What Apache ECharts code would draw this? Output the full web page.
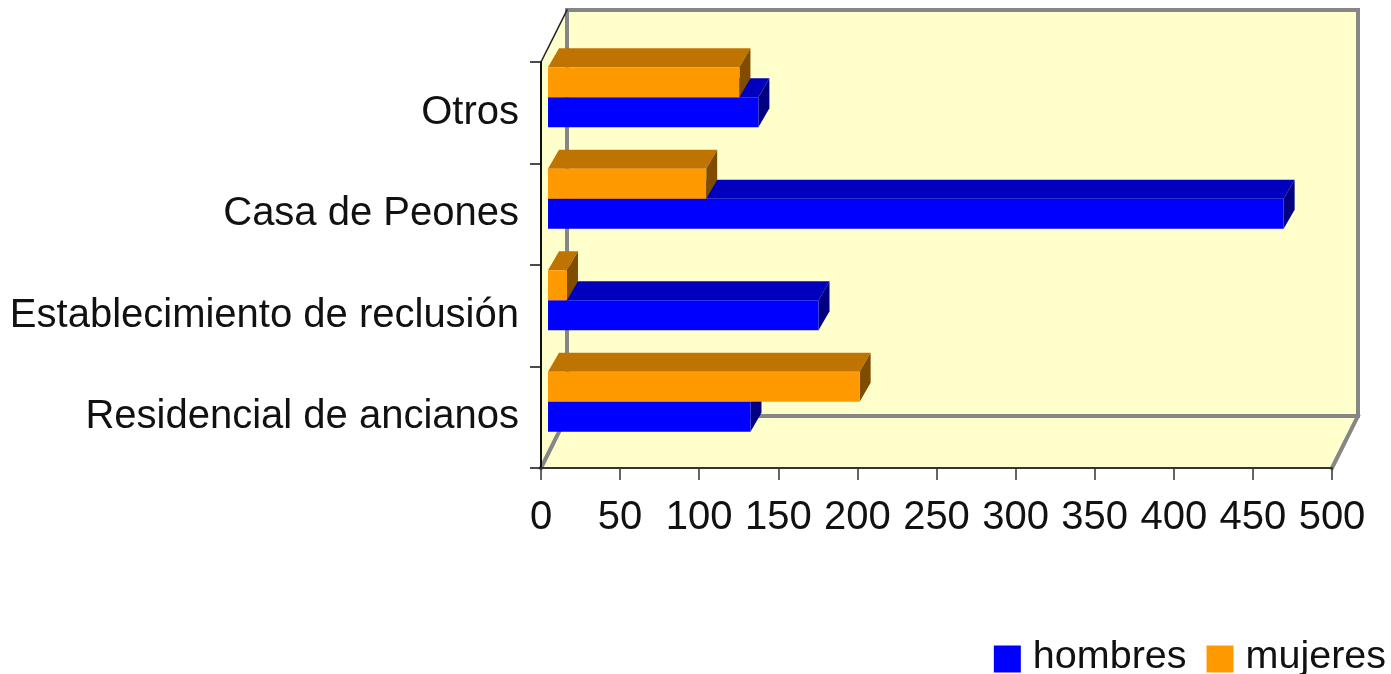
<!DOCTYPE html>
<html>
<head>
<meta charset="utf-8">
<style>
    html, body { margin: 0; padding: 0; background: #fff; }
    #chart_main { width: 1391px; height: 674px; }
</style>
<script src="https://cdn.jsdelivr.net/npm/echarts@6/dist/echarts.min.js"></script>
</head>
<body>
<div id="chart_main"></div>
<script>
var categories = ["Residencial de ancianos", "Establecimiento de reclusión", "Casa de Peones", "Otros"];
var hombres = [128, 171, 465, 133];
var mujeres = [197, 12, 100, 121];
var xTicks = { min: 0, max: 500, interval: 50 };

var fontName = '"Liberation Sans", Arial, sans-serif';
var wallColor = "#FFFFCC";
var wallLine = "#868686";

// caja 3D: cuanto se corre la pared del fondo y la cara de cada barra
var boxDepth = [26, -52];
var barShift = [7, -15.5];
var barDepth = [11, -19];
var barHeight = 30;

function poly(points, color) {
    return { type: "polygon", shape: { points: points }, style: { fill: color }, silent: true };
}
function line(a, b, color, width) {
    return {
        type: "line",
        shape: { x1: a[0], y1: a[1], x2: b[0], y2: b[1] },
        style: { stroke: color, lineWidth: width, lineCap: "square" },
        silent: true
    };
}

function renderWalls(params, api) {
    var p0 = api.coord([xTicks.min, 0]);
    var size = api.size([0, 1]);
    var bottom = p0[1] + size[1] / 2;
    var top = bottom - size[1] * categories.length;
    var left = p0[0];
    var right = api.coord([xTicks.max, 0])[0];
    var dx = boxDepth[0], dy = boxDepth[1];

    return {
        type: "group",
        children: [
            poly([[left + dx, top + dy], [right + dx, top + dy], [right + dx, bottom + dy], [left + dx, bottom + dy]], wallColor),
            poly([[left, top], [left + dx, top + dy], [left + dx, bottom + dy], [left, bottom]], wallColor),
            poly([[left, bottom], [left + dx, bottom + dy], [right + dx, bottom + dy], [right, bottom]], wallColor),
            line([left + dx, top + dy], [right + dx, top + dy], wallLine, 4),
            line([right + dx, top + dy], [right + dx, bottom + dy], wallLine, 4),
            line([left + dx, top + dy], [left + dx, bottom + dy], wallLine, 4),
            line([left + dx, bottom + dy], [right + dx, bottom + dy], wallLine, 4),
            line([left, bottom], [left + dx, bottom + dy], wallLine, 4),
            line([right, bottom], [right + dx, bottom + dy], wallLine, 4),
            line([left, top], [left + dx, top + dy], "#222222", 1.5)
        ]
    };
}

function makeBarRender(isTop, front, topFace, side) {
    return function (params, api) {
        var start = api.coord([0, api.value(1)]);
        var end = api.coord([api.value(0), api.value(1)]);
        var x0 = start[0] + barShift[0];
        var x1 = end[0] + barShift[0];
        var mid = start[1] + barShift[1];
        var y0 = isTop ? mid - barHeight : mid;
        var y1 = isTop ? mid : mid + barHeight;
        var dx = barDepth[0], dy = barDepth[1];
        return {
            type: "group",
            children: [
                poly([[x0, y0], [x0 + dx, y0 + dy], [x1 + dx, y0 + dy], [x1, y0]], topFace),
                poly([[x1, y0], [x1 + dx, y0 + dy], [x1 + dx, y1 + dy], [x1, y1]], side),
                poly([[x0, y0], [x1, y0], [x1, y1], [x0, y1]], front)
            ]
        };
    };
}

function toItems(values) {
    var items = [];
    for (var i = 0; i < values.length; i++) {
        items.push([values[i], i]);
    }
    return items;
}

var chart_main = echarts.init(document.getElementById("chart_main"));

var option = {
    animation: false,
    backgroundColor: "#ffffff",
    textStyle: { fontFamily: fontName },
    grid: { left: 541, right: 59, top: 62, bottom: 206 },
    legend: {
        data: ["hombres", "mujeres"],
        right: 0,
        top: 632,
        icon: "rect",
        itemWidth: 27,
        itemHeight: 27,
        itemGap: 20,
        formatter: "{t|{name}}",
        textStyle: {
            rich: {
                t: { fontFamily: fontName, fontSize: 39.5, color: "#111111", padding: [0, 0, 4, 7] }
            }
        }
    },
    xAxis: {
        type: "value",
        min: xTicks.min,
        max: xTicks.max,
        interval: xTicks.interval,
        z: 5,
        splitLine: { show: false },
        axisLine: { show: true, lineStyle: { color: "#333333", width: 2 } },
        axisTick: { show: true, length: 12, lineStyle: { color: "#333333", width: 1.5 } },
        axisLabel: { show: true, fontFamily: fontName, fontSize: 40, color: "#111111", margin: 30 }
    },
    yAxis: {
        type: "category",
        data: categories,
        z: 5,
        axisLine: { show: true, lineStyle: { color: "#111111", width: 2 } },
        axisTick: { show: true, length: 11, lineStyle: { color: "#111111", width: 1.5 } },
        axisLabel: { show: true, interval: 0, fontFamily: fontName, fontSize: 40, color: "#111111", margin: 22 }
    },
    series: [
        {
            name: "pared",
            type: "custom",
            z: 1,
            silent: true,
            clip: false,
            renderItem: renderWalls,
            encode: { x: 0, y: 1 },
            data: [[0, 0]]
        },
        {
            name: "hombres",
            type: "custom",
            z: 3,
            clip: false,
            itemStyle: { color: "#0000FF" },
            renderItem: makeBarRender(false, "#0000FF", "#0000BE", "#000080"),
            encode: { x: 0, y: 1 },
            data: toItems(hombres)
        },
        {
            name: "mujeres",
            type: "custom",
            z: 4,
            clip: false,
            itemStyle: { color: "#FF9900" },
            renderItem: makeBarRender(true, "#FF9900", "#BF7300", "#804D00"),
            encode: { x: 0, y: 1 },
            data: toItems(mujeres)
        }
    ]
};

chart_main.setOption(option);
</script>
</body>
</html>
